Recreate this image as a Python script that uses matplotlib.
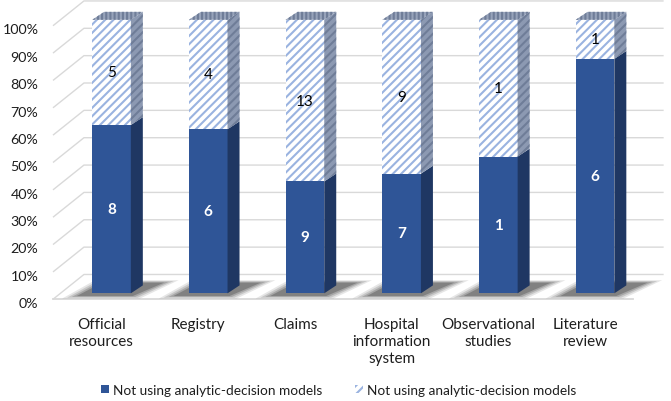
import numpy as np
import matplotlib
matplotlib.use("Agg")
import matplotlib.pyplot as plt
from matplotlib.patches import Polygon

# data (counts per source)
categories = ["Official\nresources", "Registry", "Claims",
              "Hospital\ninformation\nsystem", "Observational\nstudies",
              "Literature\nreview"]
not_using = np.array([8, 6, 9, 7, 1, 6])
other_group = np.array([5, 4, 13, 9, 1, 1])
series_names = ["Not using analytic-decision models",
                "Not using analytic-decision models"]
pct_ticks = np.arange(0, 101, 10)

# look
BLUE = "#2F5597"
BLUE_SIDE = "#1F3763"
HATCH_BLUE = "#9AB3E0"
GREY_SIDE = "#8C99B2"
GREY_HATCH = "#6F7D98"
GRID = "#D9D9D9"
TEXT = "#1E1E1E"

plt.rcParams["font.family"] = ["Lato", "DejaVu Sans"]
plt.rcParams["hatch.linewidth"] = 1.5

W = 0.40                     # bar width
BDX, BDY = 0.124, 0.029      # bar depth
FDX, FDY = 0.32, 0.0906      # floor depth
FY0 = -0.0217                # floor front level
FX0, FX1 = -0.605, 5.39      # floor front extent

frac = not_using / (not_using + other_group)
x = np.arange(len(categories))

fig = plt.figure(figsize=(6.71, 4.02), dpi=100)
ax = fig.add_axes([53 / 671, 99 / 402, 618 / 671, 303 / 402])
ax.set_xlim(FX0, 5.786)
ax.set_ylim(FY0, 1.076)
ax.patch.set_alpha(0)
for s in ax.spines.values():
    s.set_visible(False)

# walls / gridlines
for p in pct_ticks:
    f = p / 100
    ax.plot([FX0, FX0 + FDX, FX1 + FDX], [FY0 + f, FY0 + FDY + f, FY0 + FDY + f],
            color=GRID, lw=1.0, zorder=1, clip_on=False, solid_capstyle="butt")
ax.plot([FX0, FX1], [FY0, FY0], color=GRID, lw=1.3, zorder=1, clip_on=False)

# soft shadows on the floor
for xi in x:
    xl, xr = xi - W / 2, xi + W / 2
    for k, a in zip(range(4), [0.12, 0.17, 0.22, 0.32]):
        g = 0.05 * (3 - k)
        pts = [(xl - 0.16 - g, -0.010 - g * 0.06), (xr + 0.02 + g * 0.5, -0.010 - g * 0.06),
               (xr + BDX + 0.22 + g, BDY + 0.010 + g * 0.06), (xl + BDX - 0.02 - g * 0.5, BDY + 0.010 + g * 0.06)]
        ax.add_patch(Polygon(pts, closed=True, facecolor="#333333", alpha=a,
                             lw=0, zorder=2))

# front faces
blue_bars = ax.bar(x, frac, width=W, color=BLUE, linewidth=0, zorder=4)
hatch_bars = ax.bar(x, 1 - frac, bottom=frac, width=W, color="white",
                    edgecolor=HATCH_BLUE, linewidth=0, hatch="////", zorder=4)

# side and top faces
for xi, f in zip(x, frac):
    xr = xi + W / 2
    xl = xi - W / 2
    ax.add_patch(Polygon([(xr, 0), (xr + BDX, BDY), (xr + BDX, f + BDY), (xr, f)],
                         facecolor=BLUE_SIDE, lw=0, zorder=4))
    ax.add_patch(Polygon([(xr, f), (xr + BDX, f + BDY), (xr + BDX, 1 + BDY), (xr, 1)],
                         facecolor=GREY_SIDE, edgecolor=GREY_HATCH, lw=0,
                         hatch="////", zorder=4))
    ax.add_patch(Polygon([(xl, 1), (xr, 1), (xr + BDX, 1 + BDY), (xl + BDX, 1 + BDY)],
                         facecolor="#97A3BA", edgecolor=GREY_HATCH, lw=0,
                         hatch="||||", zorder=4))

# value labels
for xi, f, a, b in zip(x, frac, not_using, other_group):
    ax.text(xi, f / 2, str(a), ha="center", va="center", color="white",
            fontsize=11, fontweight="bold", zorder=6)
    ax.text(xi, f + (1 - f) / 2, str(b), ha="center", va="center", color="black",
            fontsize=11, zorder=6)

ax.set_yticks(FY0 + pct_ticks / 100 - 0.01, [f"{p}%" for p in pct_ticks])
ax.set_xticks(x - 0.103, categories)
ax.tick_params(axis="y", length=0, pad=10.5, labelsize=10.3, labelcolor=TEXT)
ax.tick_params(axis="x", length=0, pad=10.5, labelsize=11, labelcolor=TEXT)
for t in ax.get_xticklabels():
    t.set_linespacing(1.3)

fig.legend([blue_bars, hatch_bars], series_names, loc="center",
           bbox_to_anchor=(0.505, 1 - 391 / 402), ncol=2, frameon=False,
           handlelength=0.55, handleheight=0.55, handletextpad=0.35,
           columnspacing=2.4, fontsize=9.8, labelcolor=TEXT)

fig.savefig("out.png", dpi=100)
